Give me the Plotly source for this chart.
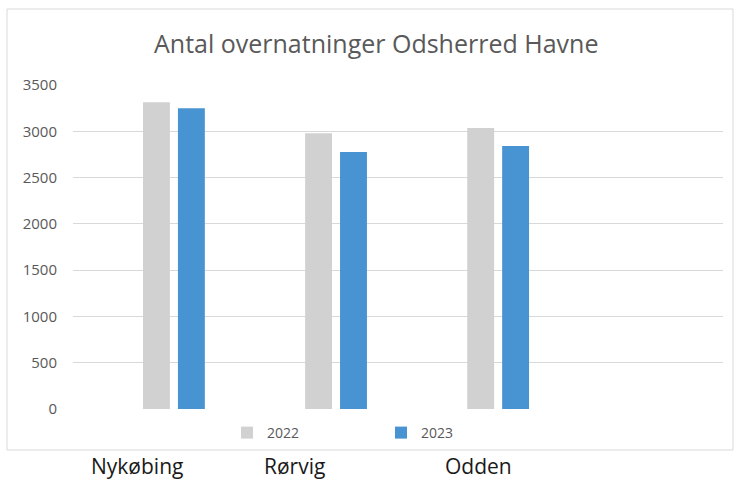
import plotly.graph_objects as go

# ---- data ----
categories = ["Nykøbing", "Rørvig", "Odden"]
series_names = ["2022", "2023"]
values_2022 = [3315, 2980, 3035]
values_2023 = [3250, 2775, 2840]
y_ticks = [0, 500, 1000, 1500, 2000, 2500, 3000, 3500]

W, H = 736, 483
L, R, T, B = 73, 13, 85, 74
PW, PH = W - L - R, H - T - B

def px_x(x):
    return (x - L) / PW

def px_y(y):
    return (H - B - y) / PH

fig = go.Figure()
fig.add_bar(name=series_names[0], x=categories, y=values_2022,
            marker=dict(color="#D1D1D1", line=dict(width=0)))
fig.add_bar(name=series_names[1], x=categories, y=values_2023,
            marker=dict(color="#4893D1", line=dict(width=0)))

gray = "#595959"
fig.update_layout(
    width=W, height=H,
    margin=dict(l=L, r=R, t=T, b=B),
    paper_bgcolor="white", plot_bgcolor="white",
    barmode="group", bargap=0.569, bargroupgap=0.23,
    font=dict(family="Open Sans, sans-serif", color=gray),
    showlegend=True,
    legend=dict(orientation="h", x=px_x(227), xanchor="left",
                y=px_y(433), yanchor="middle",
                font=dict(size=14, color=gray),
                entrywidth=109, entrywidthmode="pixels",
                bgcolor="rgba(0,0,0,0)", itemclick=False),
    xaxis=dict(range=[-0.6225, 3.387], showticklabels=False, showgrid=False,
               showline=False, zeroline=False, ticks=""),
    yaxis=dict(range=[0, 3500], tickvals=y_ticks, showgrid=True,
               gridcolor="#D9D9D9", gridwidth=1, zeroline=False, showline=False,
               ticks="outside", ticklen=12, tickcolor="rgba(0,0,0,0)",
               tickfont=dict(size=15, color=gray)),
    shapes=[
        dict(type="rect", xref="paper", yref="paper",
             x0=px_x(7), x1=px_x(733), y0=px_y(450), y1=px_y(9),
             line=dict(color="#D9D9D9", width=1), fillcolor="rgba(0,0,0,0)",
             layer="below"),
    ],
    annotations=[
        dict(text="Antal overnatninger Odsherred Havne", xref="paper", yref="paper",
             x=px_x(376), y=px_y(43), xanchor="center", yanchor="middle",
             showarrow=False, font=dict(size=25, color=gray)),
    ] + [
        dict(text=c, xref="paper", yref="paper", x=px_x(cx), y=px_y(466),
             xanchor="center", yanchor="middle", showarrow=False,
             font=dict(size=21, color="#1A1A1A"))
        for c, cx in zip(categories, [137, 294, 478])
    ],
)

fig.write_html("out.html", config={"displayModeBar": False},
               post_script="document.body.style.margin='0';document.body.style.overflow='hidden';")
